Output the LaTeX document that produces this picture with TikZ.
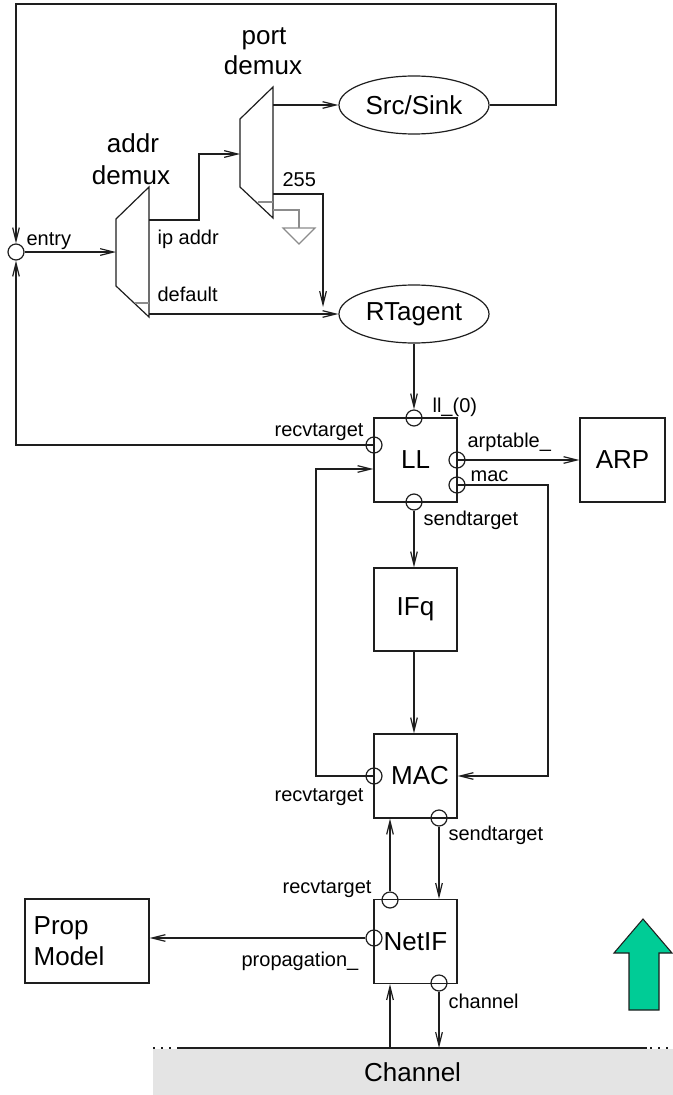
\documentclass[tikz,border=0pt]{standalone}
\usepackage{fontspec}
\setmainfont{Liberation Sans}
\usetikzlibrary{arrows.meta,shapes.geometric,calc}
\definecolor{ln}{RGB}{30,30,30}
\definecolor{gr}{RGB}{140,140,140}
\definecolor{chfill}{RGB}{228,228,228}
\definecolor{grn}{RGB}{0,204,150}
\newcommand\myS{\fontsize{15}{17}\selectfont}
\newcommand\myB{\fontsize{19.5}{23.25}\selectfont}
\begin{document}
\begin{tikzpicture}[x=0.75pt,y=-0.75pt,line width=0.9pt,
  arr/.style={draw=ln,-{Straight Barb[length=10pt,width=5pt]}},
  boxn/.style={draw=ln,rectangle,inner sep=0pt,minimum width=62.25pt,minimum height=63pt,font=\myB},
  portn/.style={draw=ln,circle,inner sep=0pt,minimum size=12pt},
  lbl/.style={inner sep=0pt,anchor=base west,font=\myS},
  big/.style={inner sep=0pt,anchor=base,font=\myB},
  oval/.style={ellipse,draw=ln,inner sep=0pt,minimum width=112.5pt,minimum height=43.5pt,font=\myB}]
\useasboundingbox (0,0) rectangle (672,1095);

% channel
\node[fill=chfill,inner sep=0pt,minimum width=390pt,minimum height=35.25pt,anchor=north west,font=\myB] (chan) at (152,1048) {Channel};
\draw[ln] (178,1048) -- (647,1048);
\draw[ln,dash pattern=on 1.5pt off 4.5pt] (153,1048) -- (178,1048);
\draw[ln,dash pattern=on 1.5pt off 4.5pt] (650,1048) -- (672,1048);

% green arrow
\draw[ln,fill=grn,line width=0.8pt] (629,1010) -- (629,953) -- (614,953) -- (643,919) -- (672,953) -- (659,953) -- (659,1010) -- cycle;

% ovals
\node[oval] (ss) at (414,105) {Src/Sink};
\node[oval] (rt) at (414,314) {RTagent};

% demux shapes
\draw[ln] (116,219) -- (149,187) -- (149,317) -- (116,286) -- cycle;
\draw[gr] (135,303) -- (149,303);
\draw[ln] (240,119) -- (273,87) -- (273,218) -- (240,187) -- cycle;
\draw[gr] (258,202) -- (273,202);
\coordinate (adin) at (116,252);
\coordinate (adip) at (149,220);
\coordinate (addef) at (149,314);
\coordinate (pdin) at (240,154);
\coordinate (pdout) at (273,105);
\coordinate (pd255) at (273,194);
\coordinate (pdgnd) at (273,210);
\coordinate (rt255) at (323,307);
\coordinate (gnd) at (299,228);
\draw[gr] (pdgnd) -| (gnd);
\draw[gr] (283,228) -- (315,228) -- (299,244) -- cycle;

\node[big] at (133,153) {addr};
\node[big] at (131,185) {demux};
\node[big] at (264,45) {port};
\node[big] at (263,75) {demux};

% entry
\node[portn] (entry) at (16,252) {};
\node[lbl] at (26,245) {entry};
\coordinate (tl) at (16,4);
\coordinate (tr) at (556,4);
\draw[arr] (ss.east) -| (tr) -- (tl) -- (entry.north);
\draw[arr] (entry.east) -- (adin);
\draw[arr] (adip) -- (199,220) |- (pdin);
\node[lbl] at (157,244) {ip addr};
\node[lbl] at (157,301) {default};
\draw[arr] (addef) -- (rt.west);
\draw[arr] (pdout) -- (ss.west);
\node[lbl] at (282,186) {255};
\draw[arr] (pd255) -| (rt255);

% LL
\node[boxn] (ll) at (415.5,460) {LL};
\node[portn] (lltop) at (414,418) {};
\node[portn] (llrecv) at (374,445) {};
\node[portn] (llarp) at (457,460) {};
\node[portn] (llmac) at (457,485) {};
\node[portn] (llsend) at (414,502) {};
\node[lbl] at (432,412) {ll\_(0)};
\node[lbl] at (274,436) {recvtarget};
\node[lbl] at (467,447) {arptable\_};
\node[lbl] at (470,481) {mac};
\node[lbl] at (423,525) {sendtarget};
\draw[arr] (rt.south -| lltop) -- (lltop.north);
\draw[arr] (llrecv.center) -| (entry.south);

% ARP
\node[boxn,minimum width=63.75pt] (arp) at (622.5,460) {ARP};
\draw[arr] (llarp.center) -- (arp.west);

% IFq
\node[boxn,minimum height=62.25pt] (ifq) at (415.5,609.5) {IFq};
\draw[arr] (llsend.south) -- (llsend.south |- ifq.north);

% MAC
\node[boxn] (mac) at (415.5,776) {\hspace*{6.75pt}MAC};
\node[portn] (macrecv) at (374,776) {};
\node[portn] (macsend) at (439,818) {};
\draw[arr] (ifq.south -| llsend) -- (mac.north -| llsend);
\coordinate (macr) at (548,776);
\draw[arr] (llmac.center) -| (macr) -- (mac.east);
\coordinate (lb) at (316,469);
\draw[arr] (macrecv.center) -| (lb) -- (lb -| ll.west);
\node[lbl] at (274,801) {recvtarget};
\node[lbl] at (448,840) {sendtarget};

% NetIF
\node[boxn] (ni) at (415.5,941.5) {NetIF};
\node[portn] (nirecv) at (390,900) {};
\node[portn] (niprop) at (374,938) {};
\node[portn] (nichan) at (439,983) {};
\node[boxn,minimum width=93pt,align=left,text width=80pt] (prop) at (87,941) {Prop\\Model};
\draw[arr] (macsend.south) -- (macsend.south |- ni.north);
\draw[arr] (nirecv.north) -- (nirecv.north |- mac.south);
\draw[arr] (niprop.west) -- (niprop.west -| prop.east);
\draw[arr] (nichan.south) -- (nichan.south |- chan.north);
\draw[arr] (nirecv |- chan.north) -- (nirecv |- ni.south);
\node[lbl] at (282,893) {recvtarget};
\node[lbl] at (241,966) {propagation\_};
\node[lbl] at (448,1008) {channel};
\end{tikzpicture}
\end{document}
